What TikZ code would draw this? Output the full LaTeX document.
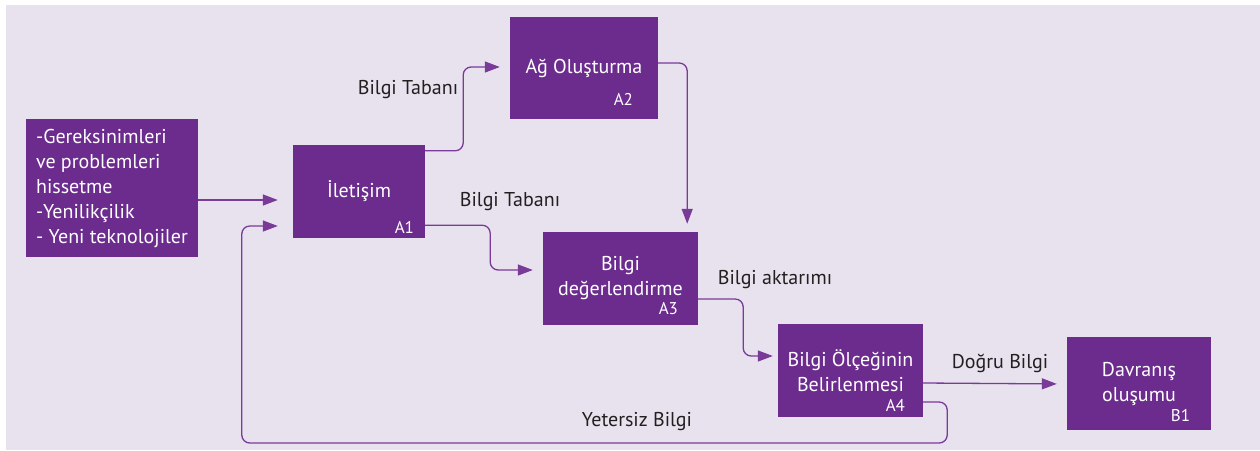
\documentclass[tikz,border=0pt]{standalone}
\usepackage{fontspec}
\setmainfont{PT Sans}
\usepackage{tikz}
\usetikzlibrary{arrows.meta}
\definecolor{mor}{RGB}{108,44,142}
\definecolor{cizgi}{RGB}{122,58,152}
\definecolor{zemin}{RGB}{232,226,239}
\definecolor{yazi}{RGB}{35,31,32}

\begin{document}
\begin{tikzpicture}[x=1pt,y=-1pt,
  k/.style={rectangle,fill=mor,text=white,minimum width=#1,align=center,inner sep=0pt,font=\fontsize{20}{25}\selectfont},
  t/.style={text=white,inner sep=0pt,anchor=south east,font=\fontsize{17}{20}\selectfont},
  e/.style={text=yazi,inner sep=0pt,font=\fontsize{20}{24}\selectfont},
  f/.style={draw=cizgi,line width=1.3pt,rounded corners=8pt,-{Triangle[length=15pt,width=11pt]},shorten >=#1},
  f/.default=10pt]
  \useasboundingbox (0,0) rectangle (1260,450);
  \fill[zemin] (6,5) rectangle (1260,450);

  \node[k=172pt,minimum height=138pt,align=left] (inp) at (112,188) {-Gereksinimleri\\ve problemleri\\hissetme\\-Yenilikçilik\\- Yeni teknolojiler};
  \node[k=132pt,minimum height=93pt] (a1) at (359,191.5) {İletişim};
  \node[k=148pt,minimum height=102pt] (a2) at (584,68) {Ağ Oluşturma};
  \node[k=155pt,minimum height=93pt] (a3) at (620.5,278.5) {Bilgi\\değerlendirme};
  \node[k=145pt,minimum height=93pt] (a4) at (850.5,370.5) {Bilgi Ölçeğinin\\Belirlenmesi};
  \node[k=144pt,minimum height=93pt] (b1) at (1139,383.5) {Davranış\\oluşumu};

  \node[t] (a1t) at ([xshift=-11pt,yshift=5pt]a1.south east) {A1};
  \node[t] (a2t) at ([xshift=-25pt,yshift=14pt]a2.south east) {A2};
  \node[t] (a3t) at ([xshift=-20pt,yshift=10pt]a3.south east) {A3};
  \node[t] (a4t) at ([xshift=-18pt,yshift=6pt]a4.south east) {A4};
  \node[t] (b1t) at ([xshift=-21pt,yshift=8pt]b1.south east) {B1};

  \node[e] (l1) at (408,90) {Bilgi Tabanı};
  \node[e] (l2) at (510,202) {Bilgi Tabanı};
  \node[e] (l3) at (775,280) {Bilgi aktarımı};
  \node[e] (l4) at (1000,363) {Doğru Bilgi};
  \node[e] (l5) at (637,422) {Yetersiz Bilgi};

  \draw[f=15pt] ([yshift=-12pt]inp.east) -- ([yshift=-8.5pt]a1.west);
  \draw[f] ([yshift=-6pt]a1.north east) -- ++(38,0) |- ([yshift=1pt]a2.west);
  \draw[f=8pt] ([yshift=5pt]a2.east) -| ([xshift=-11pt]a3.north east);
  \draw[f] ([yshift=13pt]a1.south east) -- ++(65,0) |- ([yshift=8.5pt]a3.west);
  \draw[f=5pt] ([yshift=-20.5pt]a3.east) -- ++(45,0) |- ([yshift=14.5pt]a4.west);
  \draw[f] ([yshift=-12.5pt]a4.east) -- ([yshift=-0.5pt]b1.west);
  \draw[f=15pt] ([yshift=-31.5pt]a4.east) -- ++(24,0) -- ++(0,41) -| ([xshift=-51pt,yshift=-34.5pt]a1.west) -- ([yshift=-34.5pt]a1.west);
\end{tikzpicture}
\end{document}
